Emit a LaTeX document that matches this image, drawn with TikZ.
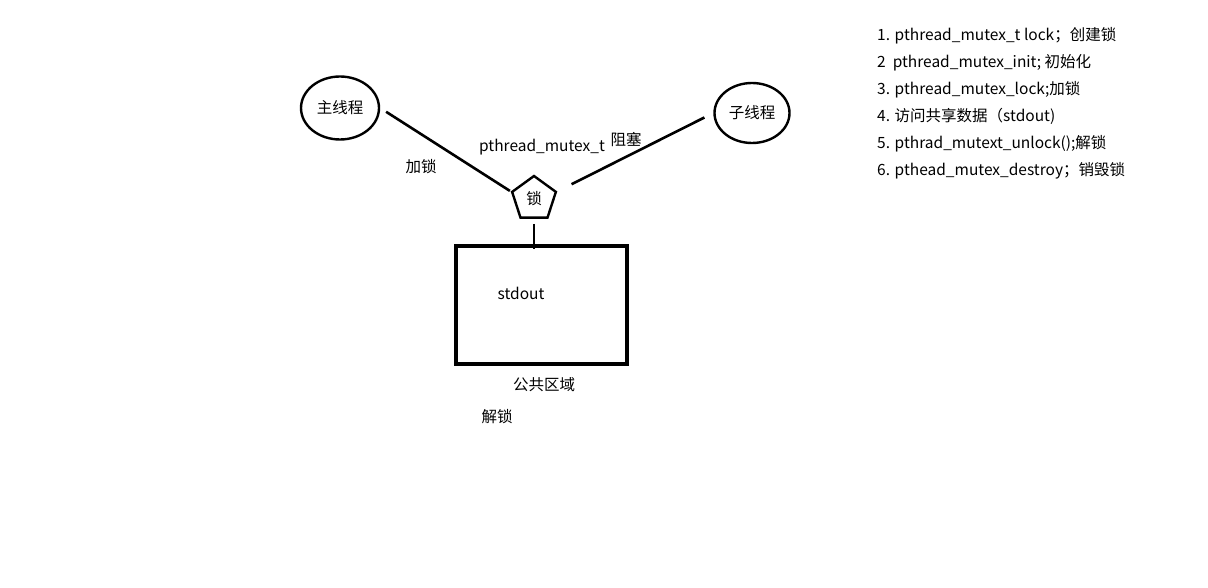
\documentclass[tikz,border=0pt]{standalone}
\usepackage{fontspec}
\setmainfont{Noto Sans CJK SC}
\usetikzlibrary{shapes.geometric,positioning}

\begin{document}
\begin{tikzpicture}[
    x=1pt, y=-1pt,
    every node/.style={font=\fontsize{15.5}{18}\selectfont, inner sep=0pt},
    thread/.style={draw, ellipse, line width=2.4pt},
    lockshape/.style={draw, regular polygon, regular polygon sides=5, minimum size=46pt, line width=2.4pt},
    link/.style={draw, line width=2.6pt}
  ]
  \useasboundingbox[fill=white] (0,0) rectangle (1208,588);

  % threads and the lock
  \node[thread, minimum width=78pt, minimum height=63pt] (main) at (340,108) {主线程};
  \node[thread, minimum width=75pt, minimum height=60pt] (child) at (752,113) {子线程};
  \node[lockshape] (lock) at (534,199) {锁};

  % shared area
  \node[draw, line width=3.2pt, minimum width=171pt, minimum height=118pt] (area) at (541.5,305) {};
  \node (out) at (521,293) {stdout};
  \node (areaname) at (544,385) {公共区域};

  \draw[link, shorten <=7pt, shorten >=1pt] (main.east) -- (lock.corner 2);
  \draw[link, shorten <=16pt, shorten >=10pt] (lock.corner 5) -- (child.west);
  \draw[link, shorten <=5pt, shorten >=-5pt] (lock.south) -- (lock.south |- area.north);

  % labels
  \node (add) at (421,167) {加锁};
  \node (mtype) at (542,147) {pthread\_mutex\_t};
  \node (block) at (626,140) {阻塞};
  \node (release) at (497,417) {解锁};

  % steps
  \node[anchor=north west, align=left, font=\fontsize{15.5}{27}\selectfont] (steps) at (877,27) {%
    1. pthread\_mutex\_t lock；创建锁\\
    2\ \ pthread\_mutex\_init; 初始化\\
    3. pthread\_mutex\_lock;加锁\\
    4. 访问共享数据（stdout)\\
    5. pthrad\_mutext\_unlock();解锁\\
    6. pthead\_mutex\_destroy；销毁锁};
\end{tikzpicture}
\end{document}
